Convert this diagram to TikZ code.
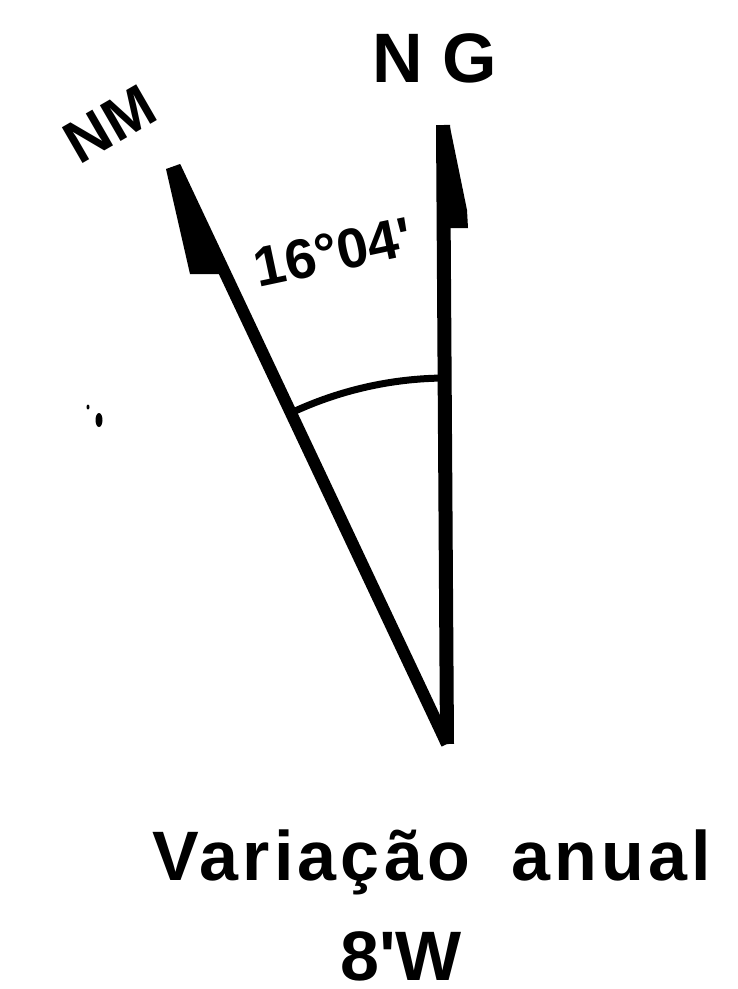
\documentclass[tikz,border=0pt]{standalone}
\usepackage{fontspec}
\setmainfont{Liberation Sans}
\begin{document}
\begin{tikzpicture}[x=1pt,y=-1pt,
  lbl/.style={inner sep=0pt, text depth=0pt, font=\bfseries\fontsize{70}{70}\selectfont},
  ngline/.style={line width=14, line cap=butt},
  nmline/.style={line width=12, line cap=butt},
  anglearc/.style={line width=7},
]
\useasboundingbox (0,0) rectangle (738,989);
\coordinate (V) at (447,744);
\coordinate (G) at (443,125);
\coordinate (M) at (175,167);
% rays
\draw[ngline] (V) -- (G);
\draw[nmline] (V) -- (M);
% half arrowheads
\fill (450,127) -- (467,210) -- (468,228) -- (450,228) -- cycle;
\fill (166,169) -- (180,164) -- (222,274) -- (190,274) -- cycle;
% angle arc
\draw[anglearc] (V) ++(-115.24:366) arc[start angle=-115.24, end angle=-90.4, radius=366];
% specks
\fill (88,407) ellipse[x radius=1.5, y radius=2.5];
\fill (99,420) ellipse[x radius=3.5, y radius=7];
% labels
\node[lbl, anchor=base] (ng) at (435,82) {N G};
\node[lbl, font=\bfseries\fontsize{60}{60}\selectfont, rotate=30] (nm) at (110,124) {NM};
\node[lbl, font=\bfseries\fontsize{56}{56}\selectfont, rotate=12] (ang) at (333,252) {16°04\textquotesingle};
\node[lbl, anchor=base] (var) at (432,880) {\addfontfeature{LetterSpace=6}Variação\hspace{18pt} anual};
\node[lbl, anchor=base] (rate) at (401,980) {8\textquotesingle W};
\end{tikzpicture}
\end{document}
